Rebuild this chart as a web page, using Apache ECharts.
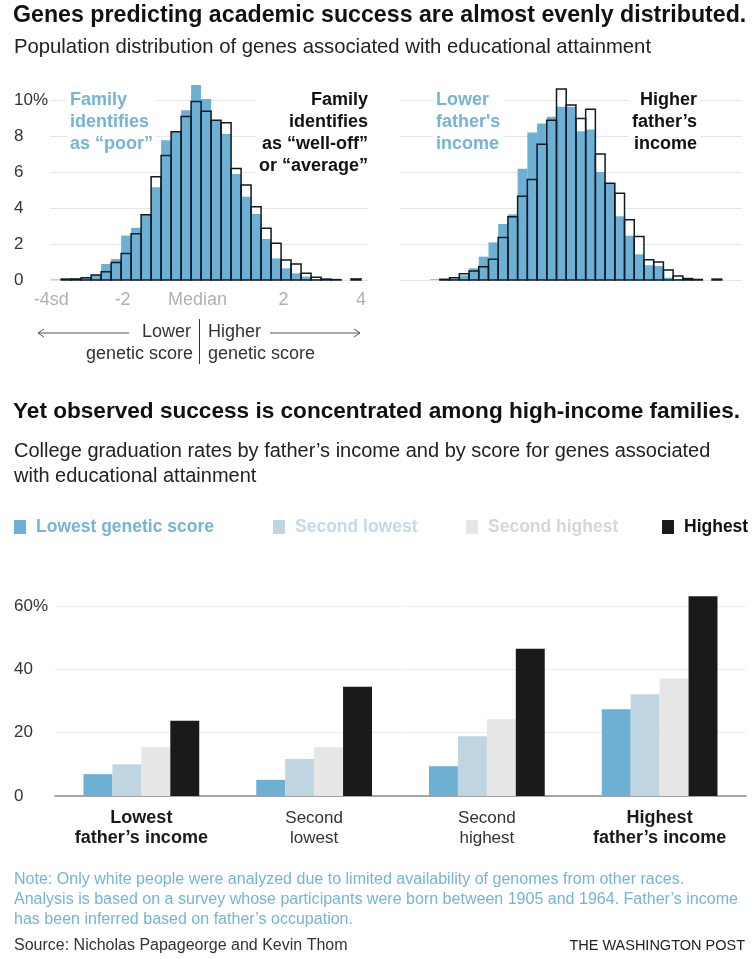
<!DOCTYPE html>
<html>
<head>
<meta charset="utf-8">
<script src="https://cdn.jsdelivr.net/npm/echarts@6/dist/echarts.min.js"></script>
<style>
html,body{margin:0;padding:0;background:#fff;}
#chart{width:755px;height:959px;}
</style>
</head>
<body>
<div id="chart"></div>
<script>
// ---------- Data ----------
// Histogram bins: 31 equal bins spanning -4 sd .. +4 sd (share of population, %)
const sdMin = -4, sdMax = 4, binCount = 31;
const poorShare = [0.03,0.02,0.04,0.10,0.28,0.89,1.17,2.47,2.90,3.63,5.15,7.76,8.24,9.43,10.83,10.05,8.87,8.11,5.89,4.63,3.67,2.28,1.20,0.65,0.37,0.19,0.05,0,0,null,null];
const wellOffShare = [null,0.05,0.06,0.13,0.28,0.46,0.97,1.47,2.57,3.63,5.73,6.92,8.24,9.08,9.92,9.38,8.87,8.74,6.20,5.28,4.07,2.87,2.04,1.11,0.89,0.37,0.15,0.05,0.02,null,0.06];
const lowerIncomeShare = [0.04,0.02,0.08,0.26,0.65,1.30,2.09,3.11,3.65,6.18,8.19,8.70,9.07,9.63,9.63,8.27,8.36,6.00,5.38,3.54,2.46,1.43,0.82,0.78,0.13,0.05,0,null,null,null,null];
const higherIncomeShare = [null,0.04,0.13,0.35,0.50,0.74,1.15,2.36,3.52,4.65,5.59,7.54,8.88,10.61,9.72,8.97,9.48,7.00,5.38,4.82,3.35,2.42,1.12,1.00,0.56,0.22,0.08,0.03,null,0.05,null];
const histXTicks = [-4, -2, 0, 2, 4];
const histXLabels = {'-4': '-4sd', '-2': '-2', '0': 'Median', '2': '2', '4': '4'};

// College graduation rates (%)
const incomeGroups = ['Lowest|father’s income', 'Second|lowest', 'Second|highest', 'Highest|father’s income'];
const scoreGroups = ['Lowest genetic score', 'Second lowest', 'Second highest', 'Highest'];
const lowestScore = [6.9, 5.1, 9.4, 27.4];
const secondLowest = [10.0, 11.7, 18.9, 32.1];
const secondHighest = [15.4, 15.4, 24.2, 37.1];
const highestScore = [23.8, 34.5, 46.5, 63.1];

// ---------- Styles ----------
const FONT = 'Liberation Sans, Arial, sans-serif';
const BLUE = '#6eb0d4';
const BLUE_TEXT = '#74b4d7';
const LIGHTBLUE = '#bfd6e2';
const LIGHTGRAY = '#e6e6e6';
const BLACK = '#1a1a1a';
const OUTLINE = '#0e1a24';
const GRID = '#e6e6e6';
const binWidth = (sdMax - sdMin) / binCount;

function histSeries(values, mode, idx, z) {
  const data = [];
  values.forEach((v, i) => { if (v !== null) data.push([i, v]); });
  return {
    type: 'custom', xAxisIndex: idx, yAxisIndex: idx, z: z, silent: true, clip: false,
    data: data,
    renderItem: function (params, api) {
      const i = api.value(0), v = api.value(1);
      const x0 = sdMin + i * binWidth;
      const a = api.coord([x0, v]);
      const b = api.coord([x0 + binWidth, 0]);
      let style;
      if (mode === 'white') style = {fill: '#fff'};
      else if (mode === 'blue') style = {fill: BLUE};
      else style = {fill: 'none', stroke: OUTLINE, lineWidth: 1.5};
      return {type: 'rect', shape: {x: a[0], y: a[1], width: b[0] - a[0], height: b[1] - a[1]}, style: style};
    }
  };
}

function txt(text, x, y, opts) {
  opts = opts || {};
  return {
    type: 'text', x: x, y: y, silent: true, z: opts.z || 10,
    style: Object.assign({
      text: text, fill: opts.color || '#222',
      font: (opts.weight || 'normal') + ' ' + (opts.size || 18) + 'px ' + FONT,
      align: opts.align || 'left', verticalAlign: opts.va || 'middle',
      lineHeight: opts.lh || undefined
    }, opts.bg ? {backgroundColor: '#fff', padding: [1, 3, 1, 3]} : {})
  };
}

const chart = echarts.init(document.getElementById('chart'), null, {renderer: 'canvas'});

const histYAxisBase = {
  type: 'value', min: 0, max: 10, interval: 2,
  axisLine: {show: false}, axisTick: {show: false},
  splitLine: {lineStyle: {color: GRID, width: 1}}
};

const xLabelRich = {
  c: {color: '#b0b0b0', fontSize: 18, fontFamily: FONT},
  l6: {color: '#b0b0b0', fontSize: 18, fontFamily: FONT, padding: [0, 12, 0, 0]},
  l8: {color: '#b0b0b0', fontSize: 18, fontFamily: FONT, padding: [0, 17, 0, 0]}
};

const option = {
  animation: false,
  backgroundColor: '#fff',
  grid: [
    {left: 50, top: 100, width: 318, height: 180},
    {left: 400, top: 100, width: 342, height: 180},
    {left: 55, right: 9, top: 606, bottom: 163}
  ],
  xAxis: [
    {
      type: 'value', gridIndex: 0, min: -4.03, max: 4.18,
      axisLine: {show: false}, axisTick: {show: false}, splitLine: {show: false},
      axisLabel: {
        customValues: histXTicks, margin: 11, color: '#b0b0b0', fontSize: 18, fontFamily: FONT,
        rich: xLabelRich,
        formatter: function (v) {
          const k = Math.round(v);
          const style = k === -2 ? 'l6' : (k === 0 ? 'l8' : 'c');
          return '{' + style + '|' + histXLabels[String(k)] + '}';
        }
      }
    },
    {
      type: 'value', gridIndex: 1, min: -4.8, max: 4.28,
      axisLine: {show: false}, axisTick: {show: false}, splitLine: {show: false}, axisLabel: {show: false}
    },
    {
      type: 'category', gridIndex: 2, data: incomeGroups,
      axisLine: {lineStyle: {color: '#8a8a8a', width: 1.5}}, axisTick: {show: false},
      axisLabel: {
        interval: 0, margin: 12, color: '#222', fontFamily: FONT, lineHeight: 20,
        formatter: function (v, i) {
          const parts = v.split('|');
          const st = (i === 0 || i === 3) ? 'b' : 'r';
          return '{' + st + '|' + parts[0] + '}\n{' + st + '|' + parts[1] + '}';
        },
        rich: {
          b: {fontWeight: 'bold', fontSize: 18, fontFamily: FONT, color: '#1a1a1a', lineHeight: 20},
          r: {fontWeight: 'normal', fontSize: 17, fontFamily: FONT, color: '#333', lineHeight: 20}
        }
      }
    }
  ],
  yAxis: [
    Object.assign({}, histYAxisBase, {
      gridIndex: 0,
      axisLabel: {align: 'left', margin: 36, color: '#333', fontSize: 17, fontFamily: FONT,
        formatter: v => v === 10 ? '10%' : String(v)}
    }),
    Object.assign({}, histYAxisBase, {gridIndex: 1, axisLabel: {show: false}}),
    {
      type: 'value', gridIndex: 2, min: 0, max: 60, interval: 20,
      axisLine: {show: false}, axisTick: {show: false},
      splitLine: {lineStyle: {color: '#ececec', width: 1}},
      axisLabel: {align: 'left', margin: 41, color: '#333', fontSize: 17, fontFamily: FONT,
        formatter: v => v === 60 ? '60%' : String(v)}
    }
  ],
  legend: [
    {left: 14, data: [scoreGroups[0]]},
    {left: 273, data: [scoreGroups[1]]},
    {left: 466, data: [scoreGroups[2]]},
    {left: 662, data: [scoreGroups[3]]}
  ].map((l, k) => Object.assign({
    top: 518, padding: 0, icon: 'rect', itemWidth: 12, itemHeight: 14, selectedMode: false,
    textStyle: {fontWeight: 'bold', fontSize: 17.5, fontFamily: FONT, padding: [0, 0, 0, 5],
      color: [BLUE_TEXT, '#c3d9e5', '#d6d6d6', '#111'][k]}
  }, l)),
  series: [
    histSeries(wellOffShare, 'white', 0, 1),
    histSeries(poorShare, 'blue', 0, 2),
    histSeries(wellOffShare, 'stroke', 0, 3),
    histSeries(higherIncomeShare, 'white', 1, 1),
    histSeries(lowerIncomeShare, 'blue', 1, 2),
    histSeries(higherIncomeShare, 'stroke', 1, 3),
    {type: 'bar', name: scoreGroups[0], xAxisIndex: 2, yAxisIndex: 2, data: lowestScore, itemStyle: {color: BLUE}, barGap: 0, barCategoryGap: '33%', clip: false, silent: true},
    {type: 'bar', name: scoreGroups[1], xAxisIndex: 2, yAxisIndex: 2, data: secondLowest, itemStyle: {color: LIGHTBLUE}, barGap: 0, barCategoryGap: '33%', clip: false, silent: true},
    {type: 'bar', name: scoreGroups[2], xAxisIndex: 2, yAxisIndex: 2, data: secondHighest, itemStyle: {color: LIGHTGRAY}, barGap: 0, barCategoryGap: '33%', clip: false, silent: true},
    {type: 'bar', name: scoreGroups[3], xAxisIndex: 2, yAxisIndex: 2, data: highestScore, itemStyle: {color: BLACK}, barGap: 0, barCategoryGap: '33%', clip: false, silent: true}
  ],
  graphic: [
    txt('Genes predicting academic success are almost evenly distributed.', 13, 16, {weight: 'bold', size: 23.2, color: '#111'}),
    txt('Population distribution of genes associated with educational attainment', 14, 47, {size: 20.3, color: '#222'}),
    // histogram annotations
    txt('Family\nidentifies\nas “poor”', 67, 88, {weight: 'bold', size: 18, color: BLUE_TEXT, va: 'top', lh: 22, bg: true}),
    txt('Family\nidentifies\nas “well-off”\nor “average”', 371, 88, {weight: 'bold', size: 18, color: '#111', align: 'right', va: 'top', lh: 22, bg: true}),
    txt('Lower\nfather\'s\nincome', 433, 88, {weight: 'bold', size: 18, color: BLUE_TEXT, va: 'top', lh: 22, bg: true}),
    txt('Higher\nfather’s\nincome', 700, 88, {weight: 'bold', size: 18, color: '#111', align: 'right', va: 'top', lh: 22, bg: true}),
    // genetic score direction key
    {type: 'line', silent: true, shape: {x1: 38, y1: 333, x2: 129, y2: 333}, style: {stroke: '#555', lineWidth: 1}},
    {type: 'polyline', silent: true, shape: {points: [[44, 329], [38, 333], [44, 337]]}, style: {stroke: '#555', lineWidth: 1, fill: 'none'}},
    {type: 'line', silent: true, shape: {x1: 270, y1: 333, x2: 360, y2: 333}, style: {stroke: '#555', lineWidth: 1}},
    {type: 'polyline', silent: true, shape: {points: [[354, 329], [360, 333], [354, 337]]}, style: {stroke: '#555', lineWidth: 1, fill: 'none'}},
    {type: 'line', silent: true, shape: {x1: 199.5, y1: 319, x2: 199.5, y2: 364}, style: {stroke: '#333', lineWidth: 1}},
    txt('Lower', 191, 332, {size: 18, color: '#333', align: 'right'}),
    txt('genetic score', 193, 354, {size: 18, color: '#333', align: 'right'}),
    txt('Higher', 208, 332, {size: 18, color: '#333'}),
    txt('genetic score', 208, 354, {size: 18, color: '#333'}),
    // second section
    txt('Yet observed success is concentrated among high-income families.', 13, 412, {weight: 'bold', size: 22.6, color: '#111'}),
    txt('College graduation rates by father’s income and by score for genes associated', 14, 451, {size: 20, color: '#222'}),
    txt('with educational attainment', 14, 476, {size: 20, color: '#222'}),
    // notes
    txt('Note: Only white people were analyzed due to limited availability of genomes from other races.', 14, 880, {size: 16.05, color: '#74b4d7'}),
    txt('Analysis is based on a survey whose participants were born between 1905 and 1964. Father’s income', 14, 900, {size: 16.05, color: '#74b4d7'}),
    txt('has been inferred based on father’s occupation.', 14, 920, {size: 16.05, color: '#74b4d7'}),
    txt('Source: Nicholas Papageorge and Kevin Thom', 14, 946, {size: 16, color: '#333'}),
    txt('THE WASHINGTON POST', 745, 946, {size: 14.5, color: '#222', align: 'right'})
  ]
};

chart.setOption(option);
</script>
</body>
</html>
